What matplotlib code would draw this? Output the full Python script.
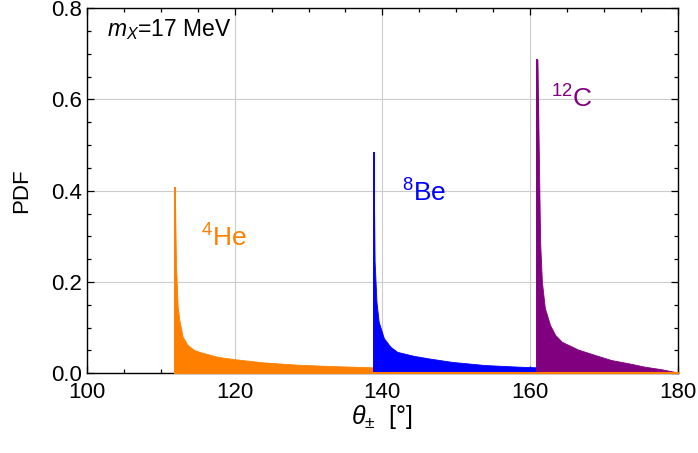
import matplotlib
matplotlib.use("Agg")
import matplotlib.pyplot as plt
from matplotlib.ticker import MultipleLocator

plt.rcParams['font.family'] = ['Liberation Sans', 'DejaVu Sans']
plt.rcParams['mathtext.fontset'] = 'custom'
plt.rcParams['mathtext.rm'] = 'Liberation Sans'
plt.rcParams['mathtext.it'] = 'Liberation Sans:italic'
plt.rcParams['mathtext.bf'] = 'Liberation Sans:bold'

# opening-angle distributions (degrees, PDF)
he_theta = [111.9, 112.05, 112.28, 112.5, 112.96, 113.63, 114.5, 115.4, 117.7,
            119.9, 123.8, 128.3, 132.8, 138.8]
he_pdf = [0.406, 0.241, 0.146, 0.117, 0.080, 0.062, 0.051, 0.046, 0.036,
          0.031, 0.024, 0.019, 0.016, 0.013]

be_theta = [138.8, 138.95, 139.2, 139.5, 140.2, 141.1, 142.0, 144.3, 146.5,
            149.4, 153.9, 158.4, 161.0]
be_pdf = [0.482, 0.245, 0.157, 0.113, 0.077, 0.058, 0.047, 0.038, 0.032,
          0.025, 0.018, 0.0145, 0.013]

c_theta = [161.0, 161.36, 161.6, 162.0, 162.7, 163.4, 164.3, 166.5, 168.8,
           171.0, 173.3, 175.5, 177.8, 179.6, 180.0]
c_pdf = [0.687, 0.289, 0.201, 0.143, 0.106, 0.084, 0.069, 0.052, 0.040,
         0.029, 0.022, 0.0145, 0.0088, 0.003, 0.0]

labels = ['$^4$He', '$^8$Be', '$^{12}$C']
colors = ['#ff8000', '#0000ff', '#800080']
label_pos = [(115.5, 0.297), (142.6, 0.395), (162.9, 0.60)]

fig = plt.figure(figsize=(6.98, 4.53), dpi=100)
ax = fig.add_axes([0.1246, 0.176, 0.8464, 0.806])

series = [(he_theta, he_pdf), (be_theta, be_pdf), (c_theta, c_pdf)]
for (th, p), col, lab, (lx, ly) in zip(series, colors, labels, label_pos):
    ax.fill_between(th, 0, p, facecolor=col, edgecolor=col, lw=0.6, zorder=2)
    ax.plot([th[0], th[0]], [0, p[0]], color=col, lw=1.4, zorder=2)
    ax.text(lx, ly, lab, color=col, fontsize=19, ha='left', va='center')

# orange base line running under all fills
ax.plot([he_theta[0], c_theta[-1]], [0, 0], color=colors[0], lw=1.5, zorder=3,
        clip_on=False)

ax.text(102.7, 0.753, '$m_X$=17 MeV', fontsize=16.5, ha='left', va='center')

ax.set_xlim(100, 180)
ax.set_ylim(0, 0.8)
ax.xaxis.set_major_locator(MultipleLocator(20))
ax.xaxis.set_minor_locator(MultipleLocator(5))
ax.yaxis.set_major_locator(MultipleLocator(0.2))
ax.yaxis.set_minor_locator(MultipleLocator(0.05))
ax.tick_params(which='both', direction='in', top=True, right=True,
               labelsize=16, width=0.9, color='black')
ax.tick_params(axis='x', which='major', pad=6)
ax.tick_params(which='major', length=5)
ax.tick_params(which='minor', length=3)
ax.grid(True, which='major', color='#cccccc', lw=0.8, zorder=0)
ax.set_axisbelow(True)
for s in ax.spines.values():
    s.set_linewidth(1.0)
    s.set_color('black')

ax.set_xlabel(r'$\theta_{\pm}$  [°]', fontsize=18, labelpad=0)
ax.set_ylabel('PDF', fontsize=16, labelpad=14)

fig.savefig('out.png', dpi=100)
